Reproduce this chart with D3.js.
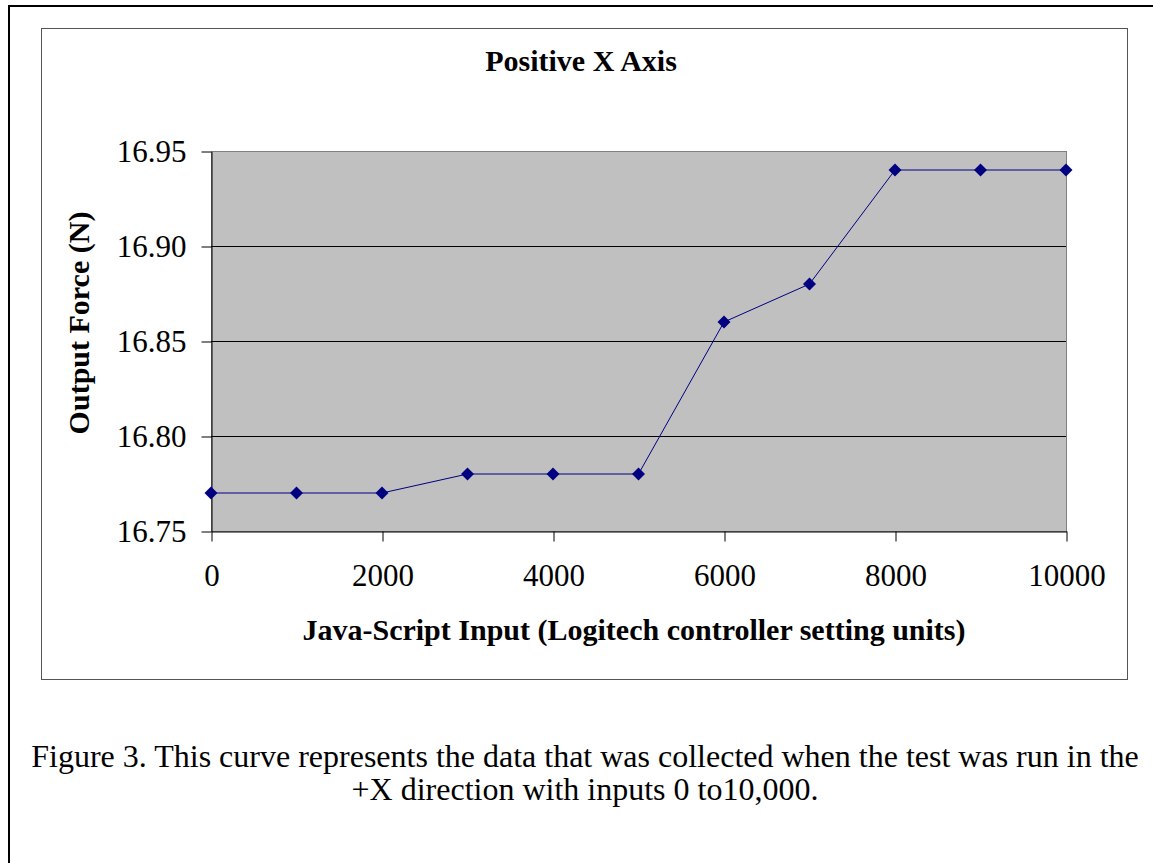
<!DOCTYPE html>
<html>
<head>
<meta charset="utf-8">
<script src="https://cdn.jsdelivr.net/npm/d3@7"></script>
<style>
  body { margin: 0; background: #fff; }
  text { font-family: "Liberation Serif", "Times New Roman", serif; }
</style>
</head>
<body>
<svg id="chart"></svg>
<script>
// data
var inputs = [0, 1000, 2000, 3000, 4000, 5000, 6000, 7000, 8000, 9000, 10000];
var forces = [16.77, 16.77, 16.77, 16.78, 16.78, 16.78, 16.86, 16.88, 16.94, 16.94, 16.94];
var xTicks = [0, 2000, 4000, 6000, 8000, 10000];
var yTicks = [16.75, 16.80, 16.85, 16.90, 16.95];
var gridValues = [16.80, 16.85, 16.90];
var title = "Positive X Axis";
var xTitle = "Java-Script Input (Logitech controller setting units)";
var yTitle = "Output Force (N)";
var caption = [
    "Figure 3. This curve represents the data that was collected when the test was run in the",
    "+X direction with inputs 0 to10,000."
];

var width = 1153,
    height = 863;
var plot = {left: 211, right: 1066, top: 151, bottom: 531};

var svg = d3.select("#chart")
    .attr("width", width)
    .attr("height", height);

svg.append("rect")
    .attr("width", width).attr("height", height)
    .attr("fill", "#fff");

// outer page border (runs off the right and bottom)
svg.append("rect")
    .attr("x", 9).attr("y", 6)
    .attr("width", 1200).attr("height", 900)
    .attr("fill", "none")
    .attr("stroke", "#000")
    .attr("stroke-width", 2);

// chart frame
svg.append("rect")
    .attr("x", 41.5).attr("y", 28.5)
    .attr("width", 1086).attr("height", 651)
    .attr("fill", "none")
    .attr("stroke", "#555")
    .attr("stroke-width", 1);

var x = d3.scaleLinear().domain([0, 10000]).range([plot.left, plot.right]);
var y = d3.scaleLinear().domain([16.75, 16.95]).range([plot.bottom, plot.top]);

// plot area
svg.append("rect")
    .attr("x", plot.left + 0.5).attr("y", plot.top + 0.5)
    .attr("width", plot.right - plot.left).attr("height", plot.bottom - plot.top)
    .attr("fill", "#c0c0c0")
    .attr("stroke", "#808080");

svg.selectAll(".grid")
    .data(gridValues).enter()
    .append("line")
    .attr("x1", plot.left).attr("x2", plot.right)
    .attr("y1", function(d) { return Math.round(y(d)) + 0.5; })
    .attr("y2", function(d) { return Math.round(y(d)) + 0.5; })
    .attr("stroke", "#000");

var yAxis = svg.append("g")
    .attr("transform", "translate(" + (plot.left + 0.5) + ",0.5)")
    .call(d3.axisLeft(y).tickValues(yTicks).tickFormat(d3.format(".2f"))
        .tickSize(10).tickSizeOuter(0).tickPadding(15));

var xAxis = svg.append("g")
    .attr("transform", "translate(0.5," + (plot.bottom + 0.5) + ")")
    .call(d3.axisBottom(x).tickValues(xTicks).tickFormat(d3.format("d"))
        .tickSize(10).tickSizeOuter(0).tickPadding(22));

[xAxis, yAxis].forEach(function(g) {
    g.attr("font-family", null).attr("font-size", null);
    g.selectAll("text")
        .style("font-size", "31px")
        .attr("fill", "#000");
    g.selectAll("line, path").attr("stroke", "#000");
});

// series
var pts = inputs.map(function(d, i) { return [d, forces[i]]; });
svg.append("path")
    .datum(pts)
    .attr("d", d3.line()
        .x(function(d) { return x(d[0]); })
        .y(function(d) { return y(d[1]); }))
    .attr("fill", "none")
    .attr("stroke", "#000080")
    .attr("stroke-width", 1);

svg.selectAll(".marker")
    .data(pts).enter()
    .append("path")
    .attr("d", d3.symbol().type(d3.symbolSquare).size(84))
    .attr("transform", function(d) {
        return "translate(" + x(d[0]) + "," + y(d[1]) + ") rotate(45)";
    })
    .attr("fill", "#000080");

// titles
svg.append("text")
    .attr("x", 581).attr("y", 71)
    .attr("text-anchor", "middle")
    .style("font-size", "30px")
    .style("font-weight", "bold")
    .text(title);

svg.append("text")
    .attr("x", 634).attr("y", 640)
    .attr("text-anchor", "middle")
    .style("font-size", "30px")
    .style("font-weight", "bold")
    .text(xTitle);

svg.append("text")
    .attr("transform", "translate(89,323) rotate(-90)")
    .attr("text-anchor", "middle")
    .style("font-size", "30px")
    .style("font-weight", "bold")
    .text(yTitle);

svg.selectAll(".caption")
    .data(caption).enter()
    .append("text")
    .attr("x", 585)
    .attr("y", function(d, i) { return 767 + i * 33; })
    .attr("text-anchor", "middle")
    .style("font-size", "32px")
    .text(function(d) { return d; });
</script>
</body>
</html>
